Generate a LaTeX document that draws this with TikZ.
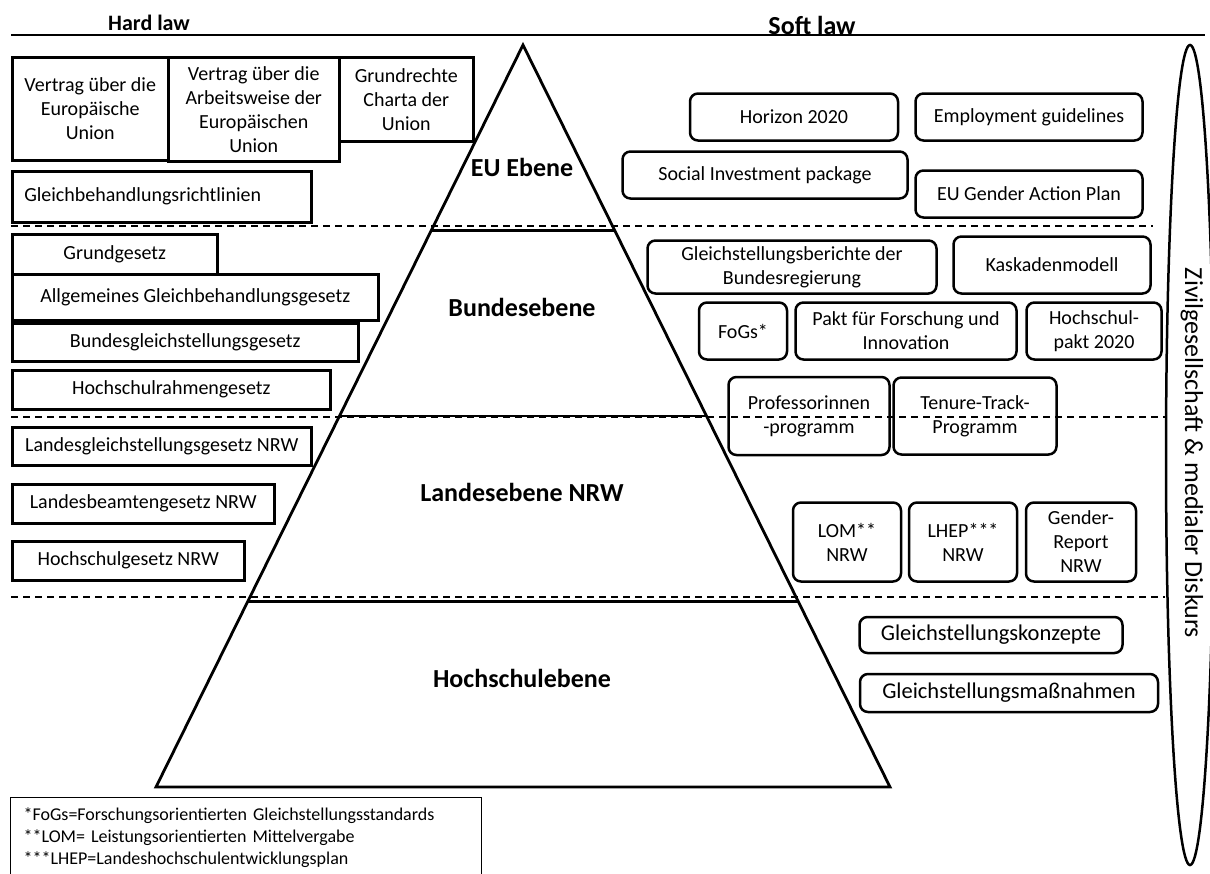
\documentclass[tikz,border=0pt]{standalone}
\usepackage{fontspec}
\setmainfont{Carlito}
\usetikzlibrary{calc}

\begin{document}
\begin{tikzpicture}[x=1pt, y=-1pt,
        font=\fontsize{20}{24}\selectfont,
        hardbox/.style={draw, line width=2.5pt, align=center, inner sep=0pt, anchor=north west},
        softbox/.style={draw, line width=2.5pt, rounded corners=8pt, align=center, inner sep=0pt},
        levelname/.style={font=\fontsize{26}{30}\selectfont\bfseries},
        header/.style={font=\fontsize{22}{26}\selectfont\bfseries},
        levelline/.style={line width=2.8pt},
        separator/.style={line width=1.3pt, dash pattern=on 7pt off 5pt}
        ]
        \useasboundingbox (0,0) rectangle (1210,873);

        \node [header] (hardlaw) at (149,23) {Hard law};
        \node [header, font=\fontsize{26}{30}\selectfont\bfseries] (softlaw) at (812,25) {Soft law};
        \coordinate (topleft) at (11,35);
        \coordinate (topright) at (1205,35);
        \draw [line width=1.5pt] (topleft) -- (topright);

        \draw [separator] (11,226) -- (1153,226);
        \draw [separator] (11,417) -- (1165,417);
        \draw [separator] (11,597) -- (1165,597);

        \coordinate (apex) at (523,45);
        \coordinate (baseleft) at (156,787);
        \coordinate (baseright) at (890,787);
        \draw [levelline] (apex) -- (baseleft) -- (baseright) -- cycle;
        \foreach \t/\n in {0.25/eu, 0.5/bund, 0.75/land}
          \draw [levelline] ($(apex)!\t!(baseleft)$) coordinate (\n left)
            -- ($(apex)!\t!(baseright)$) coordinate (\n right);

        \node [levelname] (euebene) at (522,167) {EU Ebene};
        \node [levelname] (bundesebene) at (522,307) {Bundesebene};
        \node [levelname] (landesebene) at (522,492) {Landesebene NRW};
        \node [levelname] (hochschulebene) at (522,678) {Hochschulebene};

        \node [hardbox, minimum width=156pt, minimum height=103pt] (euv) at (11,56) {Vertrag über die\\Europäische\\Union};
        \node [hardbox, minimum width=171pt, minimum height=104pt] (aeuv) at (167,56) {Vertrag über die\\Arbeitsweise der\\Europäischen\\Union};
        \node [hardbox, minimum width=134pt, minimum height=84pt] (grch) at (338,56) {Grundrechte\\Charta der\\Union};
        \node [hardbox, minimum width=299pt, minimum height=51pt, text width=275pt, inner xsep=12pt, align=left] (richtlinien) at (11,170) {Gleichbehandlungsrichtlinien};
        \node [hardbox, minimum width=205pt, minimum height=40pt] (gg) at (11,233) {Grundgesetz};
        \node [hardbox, minimum width=366pt, minimum height=46pt] (agg) at (11,273) {Allgemeines Gleichbehandlungsgesetz};
        \node [hardbox, minimum width=346pt, minimum height=38pt] (bgleig) at (11,322) {Bundesgleichstellungsgesetz};
        \node [hardbox, minimum width=318pt, minimum height=39pt] (hrg) at (11,369) {Hochschulrahmengesetz};
        \node [hardbox, minimum width=299pt, minimum height=38pt] (lgg) at (11,426) {Landesgleichstellungsgesetz NRW};
        \node [hardbox, minimum width=262pt, minimum height=39pt] (lbg) at (11,483) {Landesbeamtengesetz NRW};
        \node [hardbox, minimum width=232pt, minimum height=39pt] (hg) at (11,540) {Hochschulgesetz NRW};

        \node [softbox, minimum width=208pt, minimum height=47pt] (horizon) at (794,117) {Horizon 2020};
        \node [softbox, minimum width=227pt, minimum height=47pt] (employment) at (1029,117) {Employment guidelines};
        \node [softbox, minimum width=285pt, minimum height=47pt] (sip) at (765,175) {Social Investment package};
        \node [softbox, minimum width=227pt, minimum height=47pt] (gap) at (1029,194) {EU Gender Action Plan};
        \node [softbox, minimum width=289pt, minimum height=53pt] (berichte) at (792,267) {Gleichstellungsberichte der\\Bundesregierung};
        \node [softbox, minimum width=197pt, minimum height=57pt] (kaskade) at (1052,265) {Kaskadenmodell};
        \node [softbox, minimum width=88pt, minimum height=57pt] (fogs) at (743,331) {FoGs*};
        \node [softbox, minimum width=221pt, minimum height=57pt] (pakt) at (906,331) {Pakt für Forschung und\\Innovation};
        \node [softbox, minimum width=135pt, minimum height=57pt] (hspakt) at (1094,331) {Hochschul-\\pakt 2020};
        \node [softbox, minimum width=161pt, minimum height=78pt] (profprog) at (809,416) {Professorinnen\\-programm};
        \node [softbox, minimum width=163pt, minimum height=77pt] (tenure) at (975,416) {Tenure-Track-\\Programm};
        \node [softbox, minimum width=108pt, minimum height=79pt] (lom) at (847,542) {LOM**\\NRW};
        \node [softbox, minimum width=108pt, minimum height=79pt] (lhep) at (963,542) {LHEP***\\NRW};
        \node [softbox, minimum width=110pt, minimum height=79pt] (genderreport) at (1081,542) {Gender-\\Report\\NRW};
        \node [softbox, minimum width=263pt, minimum height=36pt, font=\fontsize{22.5}{26}\selectfont] (konzepte) at (991,635) {Gleichstellungskonzepte};
        \node [softbox, minimum width=298pt, minimum height=38pt, font=\fontsize{22.5}{26}\selectfont] (massnahmen) at (1009,693) {Gleichstellungsmaßnahmen};

        \draw [line width=2.5pt] (1190,455) ellipse [x radius=24, y radius=410];
        \node [rotate=-90, font=\fontsize{26}{30}\selectfont] (diskurs) at (1192,453) {Zivilgesellschaft \& medialer Diskurs};

        \node [draw, line width=1.3pt, anchor=north west, minimum height=80pt, text width=445pt, inner xsep=13pt, align=left,
          font=\fontsize{18}{22}\selectfont] (legende) at (10,797)
          {*FoGs=Forschungsorientierten Gleichstellungsstandards\\{}**LOM= Leistungsorientierten Mittelvergabe\\{}***LHEP=Landeshochschulentwicklungsplan};
\end{tikzpicture}
\end{document}
